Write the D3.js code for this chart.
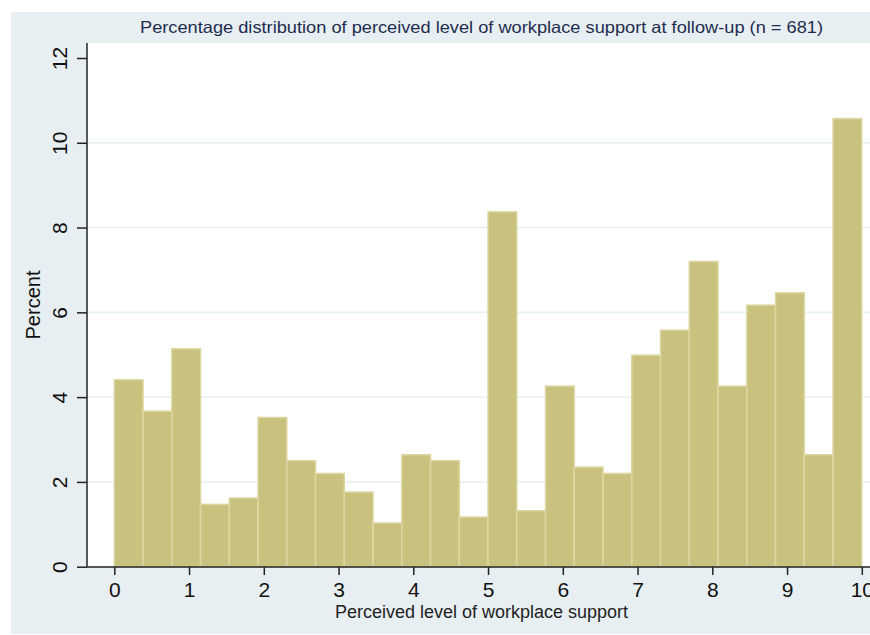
<!DOCTYPE html>
<html>
<head>
<meta charset="utf-8">
<script src="https://cdn.jsdelivr.net/npm/d3@7"></script>
<style>
  body { margin: 0; background: #fff; }
  svg { display: block; font-family: "Liberation Sans", Arial, sans-serif; }
</style>
</head>
<body>
<div id="container"></div>
<script>
// data: 26 bins from 0 to 10, percent per bin
let binStart = 0;
let binEnd = 10;
let percents = [4.41, 3.67, 5.14, 1.47, 1.62, 3.52, 2.50, 2.20, 1.76, 1.03,
                2.64, 2.50, 1.17, 8.37, 1.32, 4.26, 2.35, 2.20, 4.99, 5.58,
                7.20, 4.26, 6.17, 6.46, 2.64, 10.57];
let xTicks = [0, 1, 2, 3, 4, 5, 6, 7, 8, 9, 10];
let yTicks = [0, 2, 4, 6, 8, 10, 12];
let gridTicks = [2, 4, 6, 8, 10];

let w = 870;
let h = 635;

let viz = d3.select("#container")
  .append("svg")
    .attr("width", w)
    .attr("height", h)
;

// outer grey-blue background and white plot region
viz.append("rect").attr("x", 11).attr("y", 12).attr("width", w - 11).attr("height", 622).attr("fill", "#e8eff2");
viz.append("rect").attr("x", 87).attr("y", 43).attr("width", w - 87).attr("height", 524).attr("fill", "#ffffff");

let xScale = d3.scaleLinear().domain([0, 10]).range([114.3, 861.8]);
let yScale = d3.scaleLinear().domain([0, 12]).range([566.7, 58]);

// grid
viz.append("g").selectAll("line").data(gridTicks).enter()
  .append("line")
    .attr("x1", 88).attr("x2", w)
    .attr("y1", d => yScale(d)).attr("y2", d => yScale(d))
    .attr("stroke", "#e6eff2")
    .attr("stroke-width", 1.5);

// bars
let binW = (binEnd - binStart) / percents.length;
viz.append("g").selectAll("rect").data(percents).enter()
  .append("rect")
    .attr("x", (d, i) => xScale(binStart + i * binW))
    .attr("y", d => yScale(d))
    .attr("width", (d, i) => xScale(binStart + (i + 1) * binW) - xScale(binStart + i * binW))
    .attr("height", d => yScale(0) - yScale(d))
    .attr("fill", "#c9c27e")
    .attr("stroke", "#dcd7a2")
    .attr("stroke-width", 1.5);

// y axis
let yAxis = d3.axisLeft(yScale).tickValues(yTicks).tickSize(10).tickPadding(0).tickFormat(d3.format("d"));
let yAxisGroup = viz.append("g").attr("transform", "translate(87,0)").call(yAxis);
yAxisGroup.select(".domain").attr("d", "M0,43V567").attr("stroke", "#222").attr("stroke-width", 1.5);
yAxisGroup.selectAll(".tick line").attr("stroke", "#222").attr("stroke-width", 1.5);
yAxisGroup.selectAll("text")
  .attr("x", null).attr("dy", null)
  .attr("transform", "translate(-20,0) rotate(-90)")
  .attr("text-anchor", "middle")
  .attr("font-size", 21)
  .attr("fill", "#111");

// x axis
let xAxis = d3.axisBottom(xScale).tickValues(xTicks).tickSize(8).tickPadding(0).tickFormat(d3.format("d"));
let xAxisGroup = viz.append("g").attr("transform", "translate(0,567)").call(xAxis);
xAxisGroup.select(".domain").attr("d", "M87,0H" + w).attr("stroke", "#222").attr("stroke-width", 1.5);
xAxisGroup.selectAll(".tick line").attr("stroke", "#222").attr("stroke-width", 1.5);
xAxisGroup.selectAll("text")
  .attr("y", 30).attr("dy", null)
  .attr("font-size", 21)
  .attr("fill", "#111");

// titles
viz.append("text")
  .attr("x", 481.5).attr("y", 33)
  .attr("text-anchor", "middle")
  .attr("font-size", 16.5)
  .attr("textLength", 683)
  .attr("lengthAdjust", "spacingAndGlyphs")
  .attr("fill", "#1e2d4f")
  .text("Percentage distribution of perceived level of workplace support at follow-up (n = 681)");

viz.append("text")
  .attr("x", 481.5).attr("y", 618)
  .attr("text-anchor", "middle")
  .attr("font-size", 18)
  .attr("fill", "#222")
  .text("Perceived level of workplace support");

viz.append("text")
  .attr("transform", "translate(40,305) rotate(-90)")
  .attr("text-anchor", "middle")
  .attr("font-size", 20)
  .attr("fill", "#111")
  .text("Percent");
</script>
</body>
</html>
